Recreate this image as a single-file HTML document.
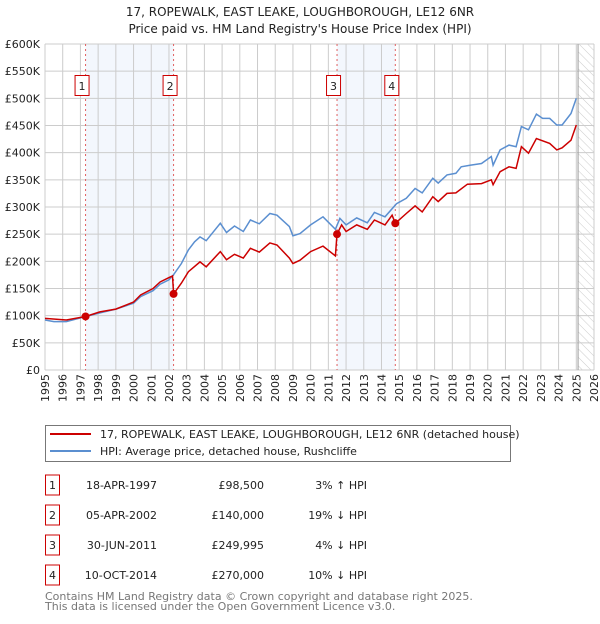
<!DOCTYPE html>
<html><head><meta charset="utf-8"><style>
body{margin:0;background:#fff;font-family:"DejaVu Sans","Liberation Sans",sans-serif;}
svg text{font-family:"DejaVu Sans","Liberation Sans",sans-serif;}
</style></head><body>
<svg width="600" height="620" xmlns="http://www.w3.org/2000/svg" id="svg">
<defs><pattern id="hatch" width="6" height="6" patternUnits="userSpaceOnUse" patternTransform="rotate(-45)"><line x1="0" y1="0" x2="0" y2="6" stroke="#ccc" stroke-width="1"/></pattern></defs>
<text x="300" y="16" text-anchor="middle" font-size="12" fill="#222">17, ROPEWALK, EAST LEAKE, LOUGHBOROUGH, LE12 6NR</text>
<text x="300" y="33" text-anchor="middle" font-size="12" fill="#222">Price paid vs. HM Land Registry's House Price Index (HPI)</text>
<g id="plot"></g>
<g>
<rect x="45.5" y="425.5" width="465" height="36" fill="#fff" stroke="#777"/>
<line x1="50" y1="434" x2="91" y2="434" stroke="#cc0000" stroke-width="2"/>
<text x="100" y="438" font-size="11" fill="#222">17, ROPEWALK, EAST LEAKE, LOUGHBOROUGH, LE12 6NR (detached house)</text>
<line x1="50" y1="451" x2="91" y2="451" stroke="#5b8fd0" stroke-width="2"/>
<text x="100" y="455" font-size="11" fill="#222">HPI: Average price, detached house, Rushcliffe</text>
</g>
<g id="table"></g>
<text x="45" y="600" font-size="11" fill="#777">Contains HM Land Registry data © Crown copyright and database right 2025.</text>
<text x="45" y="610" font-size="11" fill="#777">This data is licensed under the Open Government Licence v3.0.</text>
</svg>
<script>
const hpiYears=[1995.0,1995.5,1996.2,1997.25,1998.1,1999.0,2000.0,2000.4,2001.1,2001.5,2002.0,2002.25,2002.7,2003.1,2003.45,2003.75,2004.1,2004.9,2005.25,2005.7,2006.2,2006.6,2007.1,2007.7,2008.1,2008.8,2009.0,2009.4,2010.0,2010.7,2011.4,2011.65,2012.0,2012.6,2013.2,2013.6,2014.2,2014.85,2015.4,2015.9,2016.3,2016.9,2017.2,2017.7,2018.2,2018.5,2019.0,2019.65,2020.2,2020.3,2020.7,2021.2,2021.6,2021.9,2022.3,2022.75,2023.1,2023.5,2023.9,2024.2,2024.7,2025.0];
const hpiValues=[92,89,89,98,105,112,123,135,146,158,166,175,196,221,236,245,238,270,253,265,255,276,269,288,285,264,247,251,267,282,259,279,267,280,271,290,282,306,316,334,326,353,344,359,362,374,377,380,393,377,405,414,411,448,442,471,463,463,451,451,472,500];
const ppYears=[1995.0,1996.2,1997.29,1998.1,1999.0,2000.0,2000.4,2001.1,2001.5,2002.0,2002.2,2002.26,2002.7,2003.1,2003.75,2004.1,2004.9,2005.25,2005.7,2006.2,2006.6,2007.1,2007.7,2008.1,2008.8,2009.0,2009.4,2010.0,2010.7,2011.4,2011.49,2011.75,2012.0,2012.6,2013.2,2013.6,2014.2,2014.6,2014.78,2015.4,2015.9,2016.3,2016.9,2017.2,2017.7,2018.2,2018.85,2019.65,2020.2,2020.3,2020.7,2021.2,2021.6,2021.9,2022.3,2022.75,2023.5,2023.9,2024.2,2024.7,2025.0];
const ppValues=[95,92,98.5,107,112,125,138,150,162,170,173,140,160,181,199,190,218,203,213,206,224,217,234,230,206,196,202,218,228,210,250,267,255,267,259,276,267,285,270,288,302,291,319,310,325,326,342,343,350,341,365,374,371,411,399,426,417,405,409,423,451];
const saleYears=[1997.29,2002.26,2011.49,2014.78];
const saleValues=[98.5,140,249.995,270];
const saleLabels=["1","2","3","4"];
const saleDates=["18-APR-1997","05-APR-2002","30-JUN-2011","10-OCT-2014"];
const salePrices=["£98,500","£140,000","£249,995","£270,000"];
const saleHpi=["3% ↑ HPI","19% ↓ HPI","4% ↓ HPI","10% ↓ HPI"];
const yTicks=[0,50,100,150,200,250,300,350,400,450,500,550,600];
const yTickLabels=["£0","£50K","£100K","£150K","£200K","£250K","£300K","£350K","£400K","£450K","£500K","£550K","£600K"];
const xTicks=[];for(let y=1995;y<=2026;y++)xTicks.push(y);

const X0=45,X1=594,Y0=370,Y1=44;
const xs=v=>X0+(v-1995)/31*(X1-X0);
const ys=v=>Y0-v/600*(Y0-Y1);
const NS="http://www.w3.org/2000/svg";
const plot=document.getElementById('plot');
function mk(tag,attrs,parent){const e=document.createElementNS(NS,tag);for(const k in attrs)e.setAttribute(k,attrs[k]);(parent||plot).appendChild(e);return e;}
// shaded ranges
for(let i=0;i<4;i+=2){const r=mk('rect',{x:xs(saleYears[i]),y:Y1,width:xs(saleYears[i+1])-xs(saleYears[i]),height:Y0-Y1,fill:'#eef3fc',opacity:0.7});

}
// hatch future
const hr=mk('rect',{x:xs(2025.1),y:Y1,width:X1-xs(2025.1),height:Y0-Y1,fill:'url(#hatch)'});


// grid
xTicks.forEach(t=>{const l=mk('line',{x1:xs(t),x2:xs(t),y1:Y1,y2:Y0,stroke:'#ccc','stroke-width':1});


const tx=mk('text',{x:0,y:0,'font-size':11,fill:'#222','text-anchor':'end',transform:`translate(${xs(t)+4},374) rotate(-90)`});tx.textContent=t;

});
yTicks.forEach((t,i)=>{const l=mk('line',{x1:X0,x2:X1,y1:ys(t),y2:ys(t),stroke:'#ccc','stroke-width':1});


const tx=mk('text',{x:40,y:ys(t)+4,'font-size':11,fill:'#222','text-anchor':'end'});tx.textContent=yTickLabels[i];

});
const nl=mk('line',{x1:xs(2025.1),x2:xs(2025.1),y1:Y1,y2:Y0,stroke:'#999','stroke-width':1});


// sale lines
saleYears.forEach((s,i)=>{const l=mk('line',{x1:xs(s),x2:xs(s),y1:Y1,y2:Y0,stroke:'#e06060','stroke-width':1,'stroke-dasharray':'2,3'});


const b=mk('rect',{x:xs(s)-10.5,y:75.5,width:14,height:20,fill:'#fff',stroke:'#cc0000'});


const t=mk('text',{x:xs(s)-3.5,y:90,'font-size':11,fill:'#222','text-anchor':'middle'});t.textContent=saleLabels[i];

});
const pts=(a,b)=>a.map((v,i)=>xs(v).toFixed(1)+','+ys(b[i]).toFixed(1)).join(' ');
const hp=mk('polyline',{points:pts(hpiYears,hpiValues),fill:'none',stroke:'#5b8fd0','stroke-width':1.5});


const pp=mk('polyline',{points:pts(ppYears,ppValues),fill:'none',stroke:'#cc0000','stroke-width':1.5});


saleYears.forEach((s,i)=>{const c=mk('circle',{cx:xs(s),cy:ys(saleValues[i]),r:4,fill:'#cc0000'});

});
// table
const tb=document.getElementById('table');
saleLabels.forEach((lab,i)=>{const y=485+i*30;
const b=mk('rect',{x:45.5,y:y-10,width:14,height:20,fill:'#fff',stroke:'#cc0000'},tb);


const cells=[[52.5,lab,'middle','table-index'],[157,saleDates[i],'end','table-date'],[264,salePrices[i],'end','table-price'],[367,saleHpi[i],'end','table-hpi-diff']];
cells.forEach(c=>{const t=mk('text',{x:c[0],y:y+4,'font-size':11,fill:'#222','text-anchor':c[2]},tb);t.textContent=c[1];

});});
</script>
</body></html>
